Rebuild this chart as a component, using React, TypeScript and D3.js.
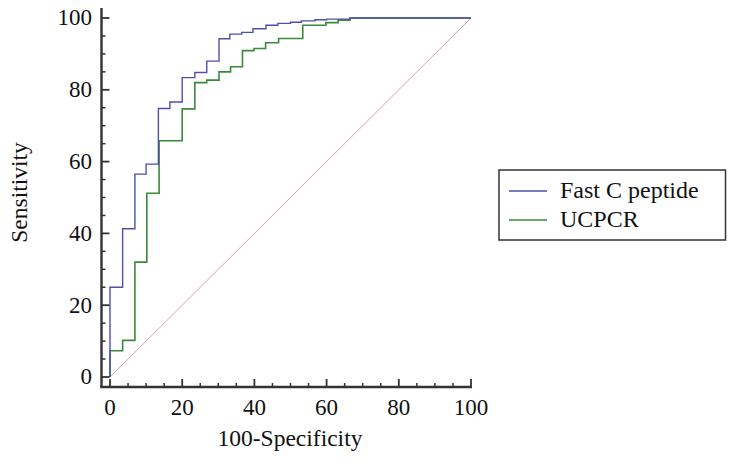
import React from "react";
import * as d3 from "d3";

const fastFPR = [0, 0, 3.5, 6.9, 10, 13.4, 16.6, 20, 23.5, 26.8, 30.2, 33.2, 36.5, 39.6, 43.2, 46.5, 50, 53, 56.8, 60, 66.5, 100];
const fastTPR = [0, 25, 41.3, 56.5, 59.3, 74.8, 76.6, 83.4, 84.8, 88, 94.2, 95.5, 96, 97, 98, 98.5, 98.8, 99.2, 99.5, 99.7, 100, 100];
const ucpFPR = [0, 0, 3.5, 6.9, 10.2, 13.6, 20, 23.5, 26.8, 30.2, 33.4, 36.7, 39.9, 43.1, 46.7, 53.4, 59.8, 63.2, 66.5, 100];
const ucpTPR = [0, 7.3, 10.2, 32, 51.2, 65.8, 74.7, 82, 82.7, 85, 86.4, 90.9, 91.5, 93.1, 94.3, 98, 98.7, 99.4, 100, 100];
const majorTicks = [0, 20, 40, 60, 80, 100];
const minorTicks = d3.range(0, 101, 5).filter((v) => v % 20 !== 0);
const seriesNames = ["Fast C peptide", "UCPCR"];
const seriesColors = ["#4f4fae", "#3a8a3a"];

const FONT = '"Liberation Serif", "Times New Roman", Times, "DejaVu Serif", serif';

export default function App() {
  const x = d3.scaleLinear().domain([0, 100]).range([110, 471]);
  const y = d3.scaleLinear().domain([0, 100]).range([377, 18]);
  const axisY = 387;
  const axisX = 101.5;
  const line = d3
    .line<[number, number]>()
    .x((d) => x(d[0]))
    .y((d) => y(d[1]))
    .curve(d3.curveStepAfter);
  const fastPts = fastFPR.map((v, i) => [v, fastTPR[i]] as [number, number]);
  const ucpPts = ucpFPR.map((v, i) => [v, ucpTPR[i]] as [number, number]);
  const axisColor = "#333";
  const tick = { fontFamily: FONT, fontSize: "23px", fill: "#111" };
  const title = { fontFamily: FONT, fontSize: "23.5px", fill: "#111" };
  const leg = { fontFamily: FONT, fontSize: "24px", fill: "#111" };
  return (
    <svg width={735} height={464} style={{ position: "absolute", left: 0, top: 0, background: "#fff" }}>
      <rect width={735} height={464} fill="#fff" />
      <line x1={x(0)} y1={y(0)} x2={x(100)} y2={y(100)} stroke="#c89898" strokeWidth={0.9} />
      <path d={line(ucpPts) || ""} fill="none" stroke={seriesColors[1]} strokeWidth={1.6} />
      <path d={line(fastPts) || ""} fill="none" stroke={seriesColors[0]} strokeWidth={1.4} />
      <line x1={axisX} y1={8} x2={axisX} y2={axisY} stroke={axisColor} strokeWidth={2.4} />
      <line x1={axisX - 1.2} y1={axisY} x2={472} y2={axisY} stroke={axisColor} strokeWidth={2.4} />
      {majorTicks.map((t) => (
        <g key={"mx" + t}>
          <line x1={x(t)} x2={x(t)} y1={axisY} y2={axisY - 8} stroke={axisColor} strokeWidth={1.8} />
          <text x={x(t)} y={415} textAnchor="middle" style={tick}>{t}</text>
          <line x1={axisX} x2={axisX + 8} y1={y(t)} y2={y(t)} stroke={axisColor} strokeWidth={1.8} />
          <text x={92} y={y(t) + 7.3} textAnchor="end" style={tick}>{t}</text>
        </g>
      ))}
      {minorTicks.map((t) => (
        <g key={"mn" + t}>
          <line x1={x(t)} x2={x(t)} y1={axisY} y2={axisY - 4} stroke={axisColor} strokeWidth={1.5} />
          <line x1={axisX} x2={axisX + 4} y1={y(t)} y2={y(t)} stroke={axisColor} strokeWidth={1.5} />
        </g>
      ))}
      <text x={290} y={446} textAnchor="middle" style={title}>100-Specificity</text>
      <text transform="translate(27,192.5) rotate(-90)" textAnchor="middle" style={title}>Sensitivity</text>
      <rect x={499} y={170} width={226.5} height={70} fill="#fff" stroke="#333" strokeWidth={1.5} />
      {seriesNames.map((n, i) => (
        <g key={n}>
          <line x1={509} x2={547} y1={191 + i * 29} y2={191 + i * 29} stroke={seriesColors[i]} strokeWidth={1.5} />
          <text x={560} y={191 + i * 29 + 7.3} style={leg}>{n}</text>
        </g>
      ))}
    </svg>
  );
}
